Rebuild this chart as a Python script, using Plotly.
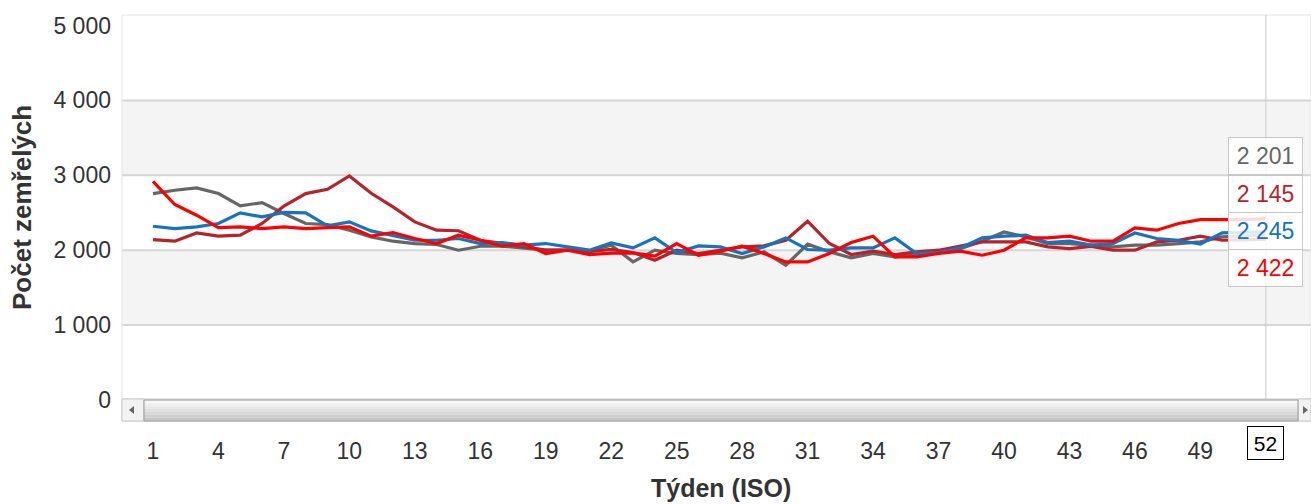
import plotly.graph_objects as go

# ---------------- data ----------------
weeks = list(range(1, 53))
x_tick_weeks = [1, 4, 7, 10, 13, 16, 19, 22, 25, 28, 31, 34, 37, 40, 43, 46, 49]
y_tick_values = [0, 1000, 2000, 3000, 4000, 5000]
band_ranges = [(1000, 2000), (3000, 4000)]
grid_values = [1000, 2000, 3000, 4000]

series_names = ["Řada 1", "Řada 2", "Řada 3", "Řada 4"]
series_colors = ["#666666", "#b8232b", "#1673c0", "#ff0000"]

gray_values = [2756, 2800, 2831, 2756, 2591, 2636, 2490, 2356, 2342, 2267,
               2178, 2120, 2089, 2076, 2000, 2053, 2053, 2031, 2000, 2000,
               1990, 2067, 1844, 2000, 1956, 1940, 1960, 1898, 1978, 1800,
               2080, 1978, 1898, 1956, 1911, 1942, 1965, 2020, 2120, 2244,
               2178, 2089, 2089, 2067, 2044, 2067, 2067, 2089, 2111, 2178,
               2190, 2201]
darkred_values = [2142, 2120, 2231, 2187, 2200, 2356, 2590, 2756, 2813, 2991,
                  2760, 2578, 2378, 2267, 2260, 2133, 2090, 2044, 2000, 2000,
                  1980, 2010, 1969, 1867, 2000, 1956, 2000, 2044, 2058, 2133,
                  2387, 2089, 1942, 1987, 1942, 1978, 2000, 2053, 2111, 2111,
                  2111, 2044, 2022, 2050, 2000, 2000, 2111, 2133, 2187, 2133,
                  2140, 2145]
blue_values = [2320, 2289, 2311, 2356, 2498, 2444, 2505, 2498, 2324, 2378,
               2258, 2200, 2133, 2133, 2156, 2089, 2102, 2067, 2089, 2044,
               2000, 2098, 2031, 2164, 1969, 2058, 2044, 1956, 2044, 2164,
               2009, 2000, 2031, 2031, 2164, 1956, 1969, 2031, 2164, 2187,
               2200, 2102, 2120, 2067, 2089, 2230, 2156, 2133, 2080, 2231,
               2240, 2245]
red_values = [2920, 2610, 2467, 2302, 2311, 2289, 2311, 2289, 2300, 2311,
              2187, 2236, 2156, 2089, 2200, 2133, 2053, 2089, 1956, 2000,
              1942, 1962, 1964, 1920, 2089, 1933, 1987, 2053, 1956, 1844,
              1844, 1956, 2102, 2187, 1911, 1911, 1956, 1987, 1933, 2000,
              2164, 2164, 2187, 2120, 2120, 2298, 2267, 2356, 2409, 2409,
              2409, 2422]

all_series = [gray_values, darkred_values, blue_values, red_values]

# ---------------- geometry helpers (pixel -> paper) ----------------
PLOT_L, PLOT_R, PLOT_T, PLOT_B = 122, 1311, 15, 420
PW, PH = PLOT_R - PLOT_L, PLOT_B - PLOT_T


def px(xp):
    return (xp - PLOT_L) / PW


def py(yp):
    return (PLOT_B - yp) / PH


def fmt(v):
    return f"{v:,}".replace(",", " ")


FONT = "Arial, Liberation Sans, sans-serif"

fig = go.Figure()
for name, vals, color in zip(series_names, all_series, series_colors):
    fig.add_trace(go.Scatter(x=weeks, y=vals, mode="lines", name=name,
                             line=dict(color=color, width=3.2),
                             showlegend=False, hoverinfo="skip"))

shapes = []
# alternate bands
for lo, hi in band_ranges:
    shapes.append(dict(type="rect", xref="paper", yref="y", x0=0, x1=1, y0=lo, y1=hi,
                       fillcolor="#f4f4f4", line=dict(width=0), layer="below"))
# gridlines
for g in grid_values:
    shapes.append(dict(type="line", xref="paper", yref="y", x0=0, x1=1, y0=g, y1=g,
                       line=dict(color="#d6d6d6", width=2), layer="below"))
# plot border
shapes.append(dict(type="rect", xref="paper", yref="paper", x0=0, x1=1, y0=0, y1=1,
                   line=dict(color="#e4e4e4", width=1), layer="below"))
# crosshair
shapes.append(dict(type="line", xref="x", yref="paper", x0=weeks[-1], x1=weeks[-1],
                   y0=py(400), y1=1, line=dict(color="#c8c8c8", width=1)))

# scrollbar track and buttons
shapes.append(dict(type="rect", xref="paper", yref="paper", x0=0, x1=1, y0=py(421), y1=py(399),
                   fillcolor="#eeeeee", line=dict(color="#cccccc", width=1)))
shapes.append(dict(type="rect", xref="paper", yref="paper", x0=px(122), x1=px(144), y0=py(421), y1=py(399),
                   fillcolor="#f2f2f2", line=dict(color="#cccccc", width=1)))
shapes.append(dict(type="rect", xref="paper", yref="paper", x0=px(1298), x1=1, y0=py(421), y1=py(399),
                   fillcolor="#f2f2f2", line=dict(color="#cccccc", width=1)))
# thumb with a stepped gradient
thumb_steps = ["#f7f7f7", "#f0f0f0", "#e8e8e8", "#e0e0e0", "#d8d8d8", "#cfcfcf", "#c6c6c6"]
top, bot = 400.5, 420.5
h = (bot - top) / len(thumb_steps)
for i, c in enumerate(thumb_steps):
    shapes.append(dict(type="rect", xref="paper", yref="paper", x0=px(144), x1=px(1298),
                       y0=py(top + (i + 1) * h), y1=py(top + i * h),
                       fillcolor=c, line=dict(width=0)))
shapes.append(dict(type="rect", xref="paper", yref="paper", x0=px(144), x1=px(1298), y0=py(421), y1=py(400),
                   fillcolor="rgba(0,0,0,0)", line=dict(color="#9a9a9a", width=1)))
# arrows
shapes.append(dict(type="path", xref="paper", yref="paper",
                   path=f"M {px(134)} {py(406)} L {px(134)} {py(414)} L {px(129)} {py(410)} Z",
                   fillcolor="#666666", line=dict(width=0)))
shapes.append(dict(type="path", xref="paper", yref="paper",
                   path=f"M {px(1303)} {py(406)} L {px(1303)} {py(414)} L {px(1308)} {py(410)} Z",
                   fillcolor="#666666", line=dict(width=0)))

annotations = []
# tooltip boxes at the last week
box_centers = [156, 193.5, 230.5, 267.5]
for vals, color, yc in zip(all_series, series_colors, box_centers):
    annotations.append(dict(xref="x", yref="paper", x=weeks[-1], y=py(yc), text=fmt(vals[-1]),
                            showarrow=False, font=dict(family=FONT, size=23, color=color),
                            bgcolor="rgba(255,255,255,0.85)", bordercolor="#c8c8c8", borderwidth=1,
                            borderpad=0, width=73, height=36, xanchor="center", yanchor="middle"))
# crosshair x label
annotations.append(dict(xref="x", yref="paper", x=weeks[-1], y=py(443), text=str(weeks[-1]),
                        showarrow=False, font=dict(family=FONT, size=21, color="#000000"),
                        bgcolor="#ffffff", bordercolor="#000000", borderwidth=1, borderpad=0,
                        width=35, height=32, xanchor="center", yanchor="middle"))
# axis titles
annotations.append(dict(xref="paper", yref="paper", x=px(22), y=py(208), text="<b>Počet zemřelých</b>",
                        textangle=-90, showarrow=False, font=dict(family=FONT, size=26, color="#333333"),
                        xanchor="center", yanchor="middle"))
annotations.append(dict(xref="paper", yref="paper", x=px(721), y=py(488), text="<b>Týden (ISO)</b>",
                        showarrow=False, font=dict(family=FONT, size=25, color="#333333"),
                        xanchor="center", yanchor="middle"))

fig.update_layout(
    width=1311, height=504,
    margin=dict(l=PLOT_L, r=1311 - PLOT_R, t=PLOT_T, b=504 - PLOT_B, pad=0),
    paper_bgcolor="#ffffff", plot_bgcolor="#ffffff",
    separators=". ",
    shapes=shapes, annotations=annotations,
    xaxis=dict(range=[-0.42, 54.07], tickmode="array", tickvals=x_tick_weeks,
               showgrid=False, zeroline=False, showline=False, ticks="",
               ticklabelstandoff=15,
               tickfont=dict(family=FONT, size=23, color="#333333")),
    yaxis=dict(range=[-267, 5140], tickmode="array", tickvals=y_tick_values,
               tickformat=",d", showgrid=False, zeroline=False, showline=False, ticks="",
               ticklabelstandoff=10,
               tickfont=dict(family=FONT, size=23, color="#333333")),
)

fig.write_html("out.html", config={"displayModeBar": False},
               post_script="document.body.style.margin='0';")
